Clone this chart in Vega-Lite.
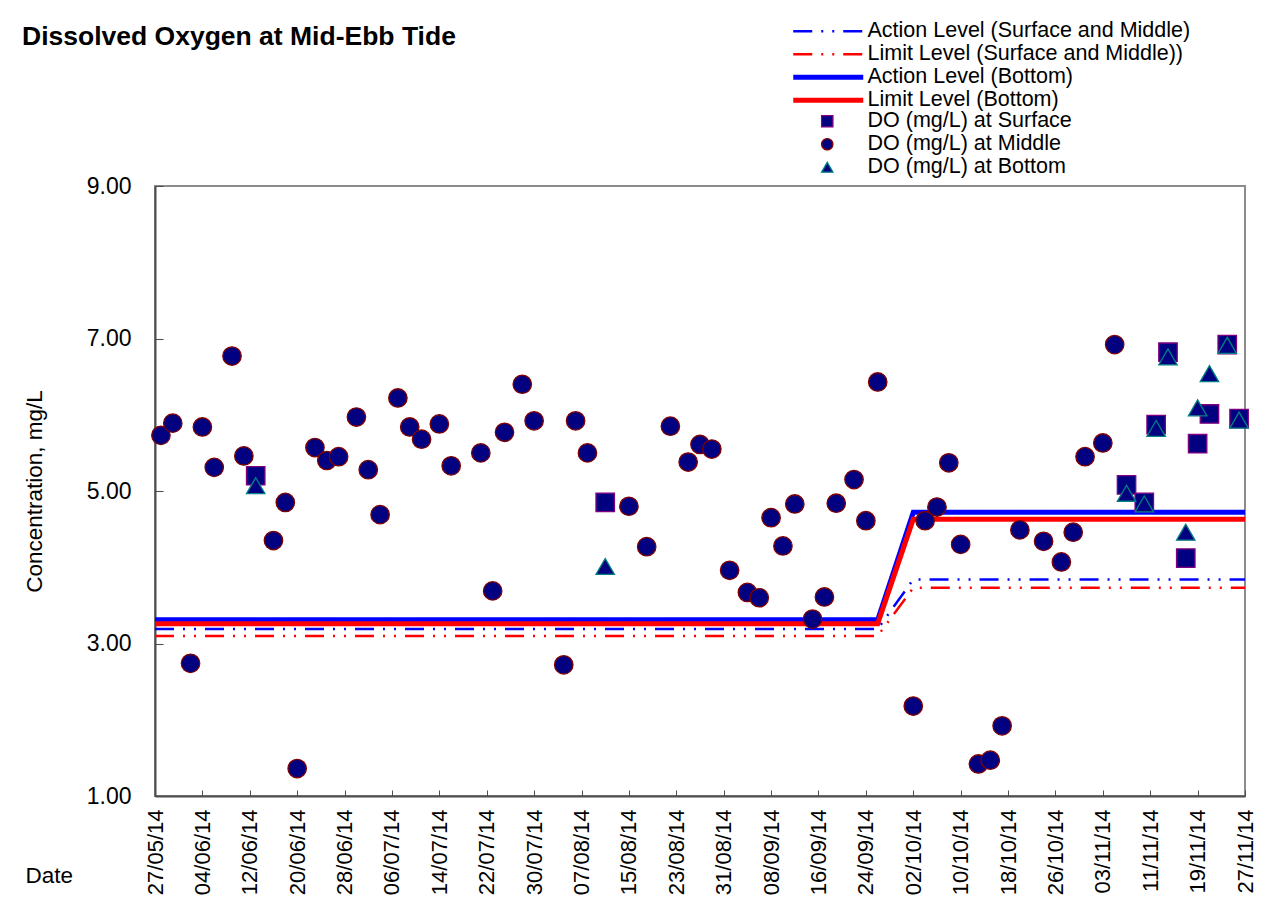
{
  "$schema": "https://vega.github.io/schema/vega-lite/v6.json",
  "width": 1090,
  "height": 610,
  "autosize": {"type": "none"},
  "padding": {"left": 155, "top": 186, "right": 27, "bottom": 101},
  "background": "white",
  "title": {
    "text": "Dissolved Oxygen at Mid-Ebb Tide",
    "anchor": "start",
    "frame": "group",
    "font": "Liberation Sans",
    "fontSize": 26.5,
    "fontWeight": "bold",
    "color": "#000000",
    "offset": 0,
    "dx": -133,
    "dy": 30
  },
  "config": {
    "font": "Liberation Sans",
    "view": {"stroke": "#8c8c8c", "strokeWidth": 2},
    "axis": {
      "grid": false,
      "labelFont": "Liberation Sans",
      "labelFontSize": 22,
      "labelColor": "#000000",
      "titleFont": "Liberation Sans",
      "titleFontSize": 22.5,
      "titleFontWeight": "normal",
      "titleColor": "#000000",
      "domainColor": "#4d4d4d",
      "domainWidth": 2,
      "tickColor": "#4d4d4d",
      "tickWidth": 1
    },
    "legend": {
      "padding": 0,
      "labelFont": "Liberation Sans",
      "labelFontSize": 21.5,
      "labelColor": "#000000",
      "rowPadding": 0,
      "labelLimit": 600
    }
  },
  "datasets": {
    "levels": [
      {"date": "2014/05/27", "value": 3.19, "series": "Action Level (Surface and Middle)"},
      {"date": "2014/09/26", "value": 3.19, "series": "Action Level (Surface and Middle)"},
      {"date": "2014/10/02", "value": 3.84, "series": "Action Level (Surface and Middle)"},
      {"date": "2014/11/27", "value": 3.84, "series": "Action Level (Surface and Middle)"},
      {"date": "2014/05/27", "value": 3.10, "series": "Limit Level (Surface and Middle))"},
      {"date": "2014/09/26", "value": 3.10, "series": "Limit Level (Surface and Middle))"},
      {"date": "2014/10/02", "value": 3.73, "series": "Limit Level (Surface and Middle))"},
      {"date": "2014/11/27", "value": 3.73, "series": "Limit Level (Surface and Middle))"},
      {"date": "2014/05/27", "value": 3.31, "series": "Action Level (Bottom)"},
      {"date": "2014/09/26", "value": 3.31, "series": "Action Level (Bottom)"},
      {"date": "2014/10/02", "value": 4.72, "series": "Action Level (Bottom)"},
      {"date": "2014/11/27", "value": 4.72, "series": "Action Level (Bottom)"},
      {"date": "2014/05/27", "value": 3.26, "series": "Limit Level (Bottom)"},
      {"date": "2014/09/26", "value": 3.26, "series": "Limit Level (Bottom)"},
      {"date": "2014/10/02", "value": 4.63, "series": "Limit Level (Bottom)"},
      {"date": "2014/11/27", "value": 4.63, "series": "Limit Level (Bottom)"}
    ],
    "do": [
      {"date": "2014/06/13", "value": 5.20, "series": "DO (mg/L) at Surface"},
      {"date": "2014/08/11", "value": 4.85, "series": "DO (mg/L) at Surface"},
      {"date": "2014/11/07", "value": 5.08, "series": "DO (mg/L) at Surface"},
      {"date": "2014/11/10", "value": 4.85, "series": "DO (mg/L) at Surface"},
      {"date": "2014/11/12", "value": 5.87, "series": "DO (mg/L) at Surface"},
      {"date": "2014/11/14", "value": 6.82, "series": "DO (mg/L) at Surface"},
      {"date": "2014/11/17", "value": 4.12, "series": "DO (mg/L) at Surface"},
      {"date": "2014/11/19", "value": 5.62, "series": "DO (mg/L) at Surface"},
      {"date": "2014/11/21", "value": 6.01, "series": "DO (mg/L) at Surface"},
      {"date": "2014/11/24", "value": 6.92, "series": "DO (mg/L) at Surface"},
      {"date": "2014/11/26", "value": 5.95, "series": "DO (mg/L) at Surface"},
      {"date": "2014/05/28", "value": 5.73, "series": "DO (mg/L) at Middle"},
      {"date": "2014/05/30", "value": 5.89, "series": "DO (mg/L) at Middle"},
      {"date": "2014/06/02", "value": 2.74, "series": "DO (mg/L) at Middle"},
      {"date": "2014/06/04", "value": 5.84, "series": "DO (mg/L) at Middle"},
      {"date": "2014/06/06", "value": 5.31, "series": "DO (mg/L) at Middle"},
      {"date": "2014/06/09", "value": 6.77, "series": "DO (mg/L) at Middle"},
      {"date": "2014/06/11", "value": 5.46, "series": "DO (mg/L) at Middle"},
      {"date": "2014/06/16", "value": 4.35, "series": "DO (mg/L) at Middle"},
      {"date": "2014/06/18", "value": 4.85, "series": "DO (mg/L) at Middle"},
      {"date": "2014/06/20", "value": 1.36, "series": "DO (mg/L) at Middle"},
      {"date": "2014/06/23", "value": 5.57, "series": "DO (mg/L) at Middle"},
      {"date": "2014/06/25", "value": 5.40, "series": "DO (mg/L) at Middle"},
      {"date": "2014/06/27", "value": 5.45, "series": "DO (mg/L) at Middle"},
      {"date": "2014/06/30", "value": 5.97, "series": "DO (mg/L) at Middle"},
      {"date": "2014/07/02", "value": 5.28, "series": "DO (mg/L) at Middle"},
      {"date": "2014/07/04", "value": 4.69, "series": "DO (mg/L) at Middle"},
      {"date": "2014/07/07", "value": 6.22, "series": "DO (mg/L) at Middle"},
      {"date": "2014/07/09", "value": 5.84, "series": "DO (mg/L) at Middle"},
      {"date": "2014/07/11", "value": 5.68, "series": "DO (mg/L) at Middle"},
      {"date": "2014/07/14", "value": 5.88, "series": "DO (mg/L) at Middle"},
      {"date": "2014/07/16", "value": 5.33, "series": "DO (mg/L) at Middle"},
      {"date": "2014/07/21", "value": 5.50, "series": "DO (mg/L) at Middle"},
      {"date": "2014/07/23", "value": 3.69, "series": "DO (mg/L) at Middle"},
      {"date": "2014/07/25", "value": 5.77, "series": "DO (mg/L) at Middle"},
      {"date": "2014/07/28", "value": 6.40, "series": "DO (mg/L) at Middle"},
      {"date": "2014/07/30", "value": 5.92, "series": "DO (mg/L) at Middle"},
      {"date": "2014/08/04", "value": 2.72, "series": "DO (mg/L) at Middle"},
      {"date": "2014/08/06", "value": 5.92, "series": "DO (mg/L) at Middle"},
      {"date": "2014/08/08", "value": 5.50, "series": "DO (mg/L) at Middle"},
      {"date": "2014/08/15", "value": 4.80, "series": "DO (mg/L) at Middle"},
      {"date": "2014/08/18", "value": 4.27, "series": "DO (mg/L) at Middle"},
      {"date": "2014/08/22", "value": 5.85, "series": "DO (mg/L) at Middle"},
      {"date": "2014/08/25", "value": 5.38, "series": "DO (mg/L) at Middle"},
      {"date": "2014/08/27", "value": 5.61, "series": "DO (mg/L) at Middle"},
      {"date": "2014/08/29", "value": 5.55, "series": "DO (mg/L) at Middle"},
      {"date": "2014/09/01", "value": 3.96, "series": "DO (mg/L) at Middle"},
      {"date": "2014/09/04", "value": 3.67, "series": "DO (mg/L) at Middle"},
      {"date": "2014/09/06", "value": 3.60, "series": "DO (mg/L) at Middle"},
      {"date": "2014/09/08", "value": 4.65, "series": "DO (mg/L) at Middle"},
      {"date": "2014/09/10", "value": 4.28, "series": "DO (mg/L) at Middle"},
      {"date": "2014/09/12", "value": 4.83, "series": "DO (mg/L) at Middle"},
      {"date": "2014/09/15", "value": 3.32, "series": "DO (mg/L) at Middle"},
      {"date": "2014/09/17", "value": 3.61, "series": "DO (mg/L) at Middle"},
      {"date": "2014/09/19", "value": 4.84, "series": "DO (mg/L) at Middle"},
      {"date": "2014/09/22", "value": 5.15, "series": "DO (mg/L) at Middle"},
      {"date": "2014/09/24", "value": 4.61, "series": "DO (mg/L) at Middle"},
      {"date": "2014/09/26", "value": 6.43, "series": "DO (mg/L) at Middle"},
      {"date": "2014/10/02", "value": 2.18, "series": "DO (mg/L) at Middle"},
      {"date": "2014/10/04", "value": 4.61, "series": "DO (mg/L) at Middle"},
      {"date": "2014/10/06", "value": 4.79, "series": "DO (mg/L) at Middle"},
      {"date": "2014/10/08", "value": 5.37, "series": "DO (mg/L) at Middle"},
      {"date": "2014/10/10", "value": 4.30, "series": "DO (mg/L) at Middle"},
      {"date": "2014/10/13", "value": 1.42, "series": "DO (mg/L) at Middle"},
      {"date": "2014/10/15", "value": 1.47, "series": "DO (mg/L) at Middle"},
      {"date": "2014/10/17", "value": 1.92, "series": "DO (mg/L) at Middle"},
      {"date": "2014/10/20", "value": 4.49, "series": "DO (mg/L) at Middle"},
      {"date": "2014/10/24", "value": 4.34, "series": "DO (mg/L) at Middle"},
      {"date": "2014/10/27", "value": 4.07, "series": "DO (mg/L) at Middle"},
      {"date": "2014/10/29", "value": 4.46, "series": "DO (mg/L) at Middle"},
      {"date": "2014/10/31", "value": 5.45, "series": "DO (mg/L) at Middle"},
      {"date": "2014/11/03", "value": 5.63, "series": "DO (mg/L) at Middle"},
      {"date": "2014/11/05", "value": 6.92, "series": "DO (mg/L) at Middle"},
      {"date": "2014/06/13", "value": 5.07, "series": "DO (mg/L) at Bottom"},
      {"date": "2014/08/11", "value": 4.01, "series": "DO (mg/L) at Bottom"},
      {"date": "2014/11/07", "value": 4.97, "series": "DO (mg/L) at Bottom"},
      {"date": "2014/11/10", "value": 4.83, "series": "DO (mg/L) at Bottom"},
      {"date": "2014/11/12", "value": 5.82, "series": "DO (mg/L) at Bottom"},
      {"date": "2014/11/14", "value": 6.76, "series": "DO (mg/L) at Bottom"},
      {"date": "2014/11/17", "value": 4.46, "series": "DO (mg/L) at Bottom"},
      {"date": "2014/11/19", "value": 6.09, "series": "DO (mg/L) at Bottom"},
      {"date": "2014/11/21", "value": 6.54, "series": "DO (mg/L) at Bottom"},
      {"date": "2014/11/24", "value": 6.91, "series": "DO (mg/L) at Bottom"},
      {"date": "2014/11/26", "value": 5.93, "series": "DO (mg/L) at Bottom"}
    ]
  },
  "encoding": {
    "x": {
      "field": "date",
      "type": "temporal",
      "scale": {"domain": [{"year": 2014, "month": "may", "date": 27}, {"year": 2014, "month": "nov", "date": 27}], "nice": false},
      "axis": {
        "title": "Date",
        "format": "%d/%m/%y",
        "values": [
          {"year": 2014, "month": "may", "date": 27},
          {"year": 2014, "month": "jun", "date": 4},
          {"year": 2014, "month": "jun", "date": 12},
          {"year": 2014, "month": "jun", "date": 20},
          {"year": 2014, "month": "jun", "date": 28},
          {"year": 2014, "month": "jul", "date": 6},
          {"year": 2014, "month": "jul", "date": 14},
          {"year": 2014, "month": "jul", "date": 22},
          {"year": 2014, "month": "jul", "date": 30},
          {"year": 2014, "month": "aug", "date": 7},
          {"year": 2014, "month": "aug", "date": 15},
          {"year": 2014, "month": "aug", "date": 23},
          {"year": 2014, "month": "aug", "date": 31},
          {"year": 2014, "month": "sep", "date": 8},
          {"year": 2014, "month": "sep", "date": 16},
          {"year": 2014, "month": "sep", "date": 24},
          {"year": 2014, "month": "oct", "date": 2},
          {"year": 2014, "month": "oct", "date": 10},
          {"year": 2014, "month": "oct", "date": 18},
          {"year": 2014, "month": "oct", "date": 26},
          {"year": 2014, "month": "nov", "date": 3},
          {"year": 2014, "month": "nov", "date": 11},
          {"year": 2014, "month": "nov", "date": 19},
          {"year": 2014, "month": "nov", "date": 27}
        ],
        "labelAngle": -90,
        "labelFlush": false,
        "labelOverlap": false,
        "tickSize": -6,
        "labelPadding": 19,
        "titleX": -130,
        "titleY": 86,
        "titleAlign": "left",
        "titleBaseline": "alphabetic",
        "titleAngle": 0
      }
    },
    "y": {
      "field": "value",
      "type": "quantitative",
      "scale": {"domain": [1, 9], "nice": false, "zero": false},
      "axis": {
        "title": "Concentration, mg/L",
        "values": [1, 3, 5, 7, 9],
        "format": ".2f",
        "labelFontSize": 23,
        "tickSize": -8,
        "labelPadding": 32,
        "titleX": -121,
        "titleY": 305,
        "titleAngle": -90,
        "titleAlign": "center",
        "titleBaseline": "middle"
      }
    }
  },
  "layer": [
    {
      "data": {"name": "levels"},
      "mark": {"type": "line", "strokeCap": "butt"},
      "encoding": {
        "color": {
          "field": "series", "type": "nominal",
          "scale": {"domain": ["Action Level (Surface and Middle)", "Limit Level (Surface and Middle))", "Action Level (Bottom)", "Limit Level (Bottom)"], "range": ["#0000ff", "#ff0000", "#0000ff", "#ff0000"]},
          "legend": {"title": null, "orient": "none", "legendX": 662.5, "legendY": -165.5, "symbolSize": 100, "labelOffset": 28.5, "symbolType": "M-7,0L7,0"}
        },
        "strokeDash": {
          "field": "series", "type": "nominal",
          "scale": {"domain": ["Action Level (Surface and Middle)", "Limit Level (Surface and Middle))", "Action Level (Bottom)", "Limit Level (Bottom)"], "range": [[19, 9, 2, 9, 2, 9], [19, 9, 2, 9, 2, 9], [1, 0], [1, 0]]},
          "legend": {"title": null, "orient": "none", "legendX": 662.5, "legendY": -165.5, "symbolSize": 100, "labelOffset": 28.5, "symbolType": "M-7,0L7,0"}
        },
        "strokeWidth": {
          "field": "series", "type": "nominal",
          "scale": {"type": "ordinal", "domain": ["Action Level (Surface and Middle)", "Limit Level (Surface and Middle))", "Action Level (Bottom)", "Limit Level (Bottom)"], "range": [2.5, 2.5, 5, 5]},
          "legend": {"title": null, "orient": "none", "legendX": 662.5, "legendY": -165.5, "symbolSize": 100, "labelOffset": 28.5, "symbolType": "M-7,0L7,0"}
        }
      }
    },
    {
      "data": {"name": "do"},
      "mark": {"type": "point", "filled": true, "fill": "#000080", "opacity": 1, "size": 340, "strokeWidth": 1.3},
      "encoding": {
        "shape": {
          "field": "series", "type": "nominal",
          "scale": {"domain": ["DO (mg/L) at Surface", "DO (mg/L) at Middle", "DO (mg/L) at Bottom"], "range": ["square", "circle", "triangle-up"]},
          "legend": {"title": null, "orient": "none", "legendX": 661.5, "legendY": -75.5, "symbolSize": 128, "labelOffset": 29.5, "symbolFillColor": "#000080", "symbolStrokeWidth": 1.3}
        },
        "stroke": {
          "field": "series", "type": "nominal",
          "scale": {"domain": ["DO (mg/L) at Surface", "DO (mg/L) at Middle", "DO (mg/L) at Bottom"], "range": ["#800080", "#800000", "#008080"]},
          "legend": {"title": null, "orient": "none", "legendX": 661.5, "legendY": -75.5, "symbolSize": 128, "labelOffset": 29.5, "symbolFillColor": "#000080", "symbolStrokeWidth": 1.3}
        }
      }
    }
  ]
}
